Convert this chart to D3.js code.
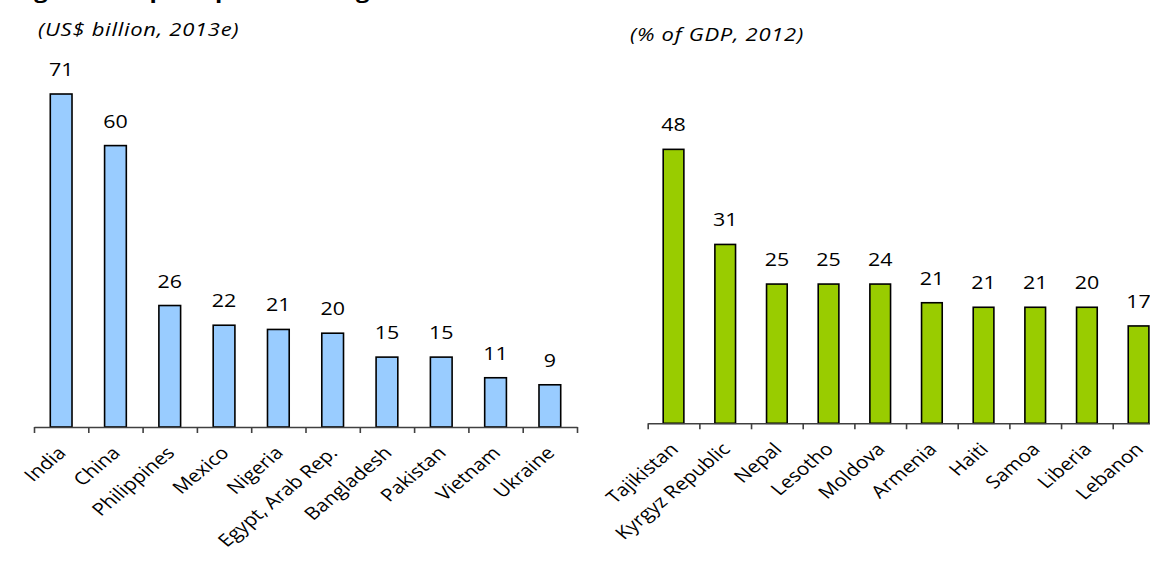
<!DOCTYPE html>
<html>
<head>
<meta charset="utf-8">
<script src="https://cdn.jsdelivr.net/npm/d3@7"></script>
<style>
  html, body { margin: 0; padding: 0; background: #fff; }
  svg { display: block; }
  text { font-family: "Open Sans", "Noto Sans", sans-serif; fill: #000; }
</style>
</head>
<body>
<svg id="chart" width="1150" height="562"></svg>
<script>
// ---- Data ----
const titleText = "Figure 2. Top recipients of migrant remittances";
const leftSubtitle = "(US$ billion, 2013e)";
const rightSubtitle = "(% of GDP, 2012)";

const leftCategories = ["India", "China", "Philippines", "Mexico", "Nigeria",
  "Egypt, Arab Rep.", "Bangladesh", "Pakistan", "Vietnam", "Ukraine"];
const leftValues = [71, 60, 25.9, 21.7, 20.8, 20.0, 14.9, 14.9, 10.5, 9.0];
const leftLabels = ["71", "60", "26", "22", "21", "20", "15", "15", "11", "9"];

const rightCategories = ["Tajikistan", "Kyrgyz Republic", "Nepal", "Lesotho", "Moldova",
  "Armenia", "Haiti", "Samoa", "Liberia", "Lebanon"];
const rightValues = [48.4, 31.6, 24.6, 24.6, 24.6, 21.3, 20.5, 20.5, 20.5, 17.2];
const rightLabels = ["48", "31", "25", "25", "24", "21", "21", "21", "20", "17"];

// ---- Drawing ----
const SX = 1.19; // horizontal stretch of the original picture's lettering
const svg = d3.select("#chart");

// cropped title (only descender tips visible at top)
svg.append("text")
  .attr("transform", `translate(14,-2) scale(${SX},1)`)
  .style("font-weight", "bold").style("font-size", "20px")
  .text(titleText);

function drawPanel(cfg) {
  const g = svg.append("g");
  const x = d3.scaleBand().domain(cfg.categories)
    .range([cfg.x0, cfg.x1]).paddingInner(0.6).paddingOuter(0.3);
  const idx = d3.scaleLinear().domain([0, cfg.categories.length]).range([cfg.x0, cfg.x1]);
  const y = d3.scaleLinear().domain([0, cfg.yMax]).range([cfg.base, cfg.yTop]);

  // subtitle
  g.append("text")
    .attr("transform", `translate(${cfg.subX},${cfg.subY}) scale(${SX},1)`)
    .style("font-style", "italic").style("font-size", "18.5px")
    .style("letter-spacing", cfg.subSpacing)
    .text(cfg.subtitle);

  // bars
  g.selectAll("rect.bar").data(cfg.values).join("rect")
    .attr("class", "bar")
    .attr("x", (d, i) => x(cfg.categories[i]))
    .attr("width", x.bandwidth())
    .attr("y", d => y(d))
    .attr("height", d => y(0) - y(d))
    .attr("fill", cfg.color)
    .attr("stroke", "#000")
    .attr("stroke-width", 1.6);

  // value labels
  g.selectAll("text.val").data(cfg.values).join("text")
    .attr("class", "val")
    .attr("transform", (d, i) =>
      `translate(${x(cfg.categories[i]) + x.bandwidth() / 2},${y(d) - 18}) scale(${SX},1)`)
    .attr("text-anchor", "middle")
    .style("font-size", "18px")
    .text((d, i) => cfg.labels[i]);

  // axis
  const axis = d3.axisBottom(idx)
    .tickValues(d3.range(cfg.categories.length + 1))
    .tickFormat("")
    .tickSize(6)
    .tickSizeOuter(0);
  const ag = g.append("g").attr("transform", `translate(0,${cfg.base})`).call(axis);
  ag.select(".domain").attr("stroke", "#404040").attr("stroke-width", 1.6);
  ag.selectAll(".tick line").attr("stroke", "#404040").attr("stroke-width", 1.6);

  // category labels
  g.selectAll("text.cat").data(cfg.categories).join("text")
    .attr("class", "cat")
    .attr("text-anchor", "end")
    .attr("transform", d => {
      const cx = x(d) + x.bandwidth() / 2 + 6;
      const cy = cfg.base + 27;
      return `translate(${cx},${cy}) scale(${SX},1) rotate(-45)`;
    })
    .style("font-size", "17.5px")
    .text(d => d);
}

drawPanel({
  categories: leftCategories, values: leftValues, labels: leftLabels,
  color: "#99CCFF", x0: 34, x1: 577, base: 427, yMax: 80, yTop: 427 - 80 * 4.69,
  subtitle: leftSubtitle, subX: 38, subY: 36, subSpacing: "0.6px"
});

drawPanel({
  categories: rightCategories, values: rightValues, labels: rightLabels,
  color: "#99CC00", x0: 647.7, x1: 1164.4, base: 423.3, yMax: 60, yTop: 423.3 - 60 * 5.66,
  subtitle: rightSubtitle, subX: 630, subY: 41, subSpacing: "0.6px"
});
</script>
</body>
</html>
